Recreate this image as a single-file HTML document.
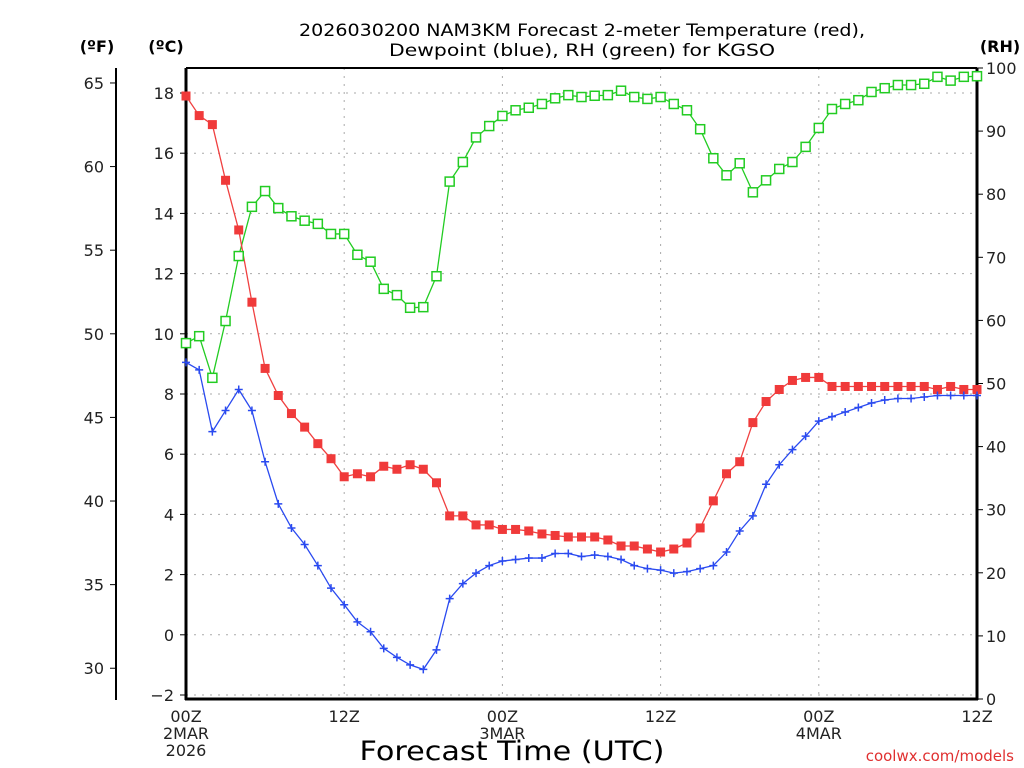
<!DOCTYPE html>
<html><head><meta charset="utf-8"><style>
html,body{margin:0;padding:0;background:#fff;}
svg{display:block;font-family:"DejaVu Sans","Liberation Sans",sans-serif;}
</style></head><body>
<svg id="chart" width="1024" height="768" viewBox="0 0 1024 768" xmlns="http://www.w3.org/2000/svg">
<rect width="1024" height="768" fill="#fff"/>
<g id="grid"></g>
<g id="axes"></g>
<g id="series"></g>
<text x="582" y="36" font-size="17" text-anchor="middle" textLength="566" lengthAdjust="spacingAndGlyphs">2026030200 NAM3KM Forecast 2-meter Temperature (red),</text>
<text x="582" y="56" font-size="17" text-anchor="middle" textLength="386" lengthAdjust="spacingAndGlyphs">Dewpoint (blue), RH (green) for KGSO</text>
<text x="97" y="52" font-size="16" font-weight="bold" text-anchor="middle">(ºF)</text>
<text x="166" y="52" font-size="16" font-weight="bold" text-anchor="middle">(ºC)</text>
<text x="1000" y="52" font-size="16" font-weight="bold" text-anchor="middle">(RH)</text>
<text x="512" y="760" font-size="27" text-anchor="middle" textLength="305" lengthAdjust="spacingAndGlyphs">Forecast Time (UTC)</text>
<text x="1014" y="761" font-size="15" fill="#e03030" text-anchor="end">coolwx.com/models</text>
</svg>
<script>
const temps=[17.9,17.25,16.95,15.1,13.45,11.05,8.85,7.95,7.35,6.9,6.35,5.85,5.25,5.35,5.25,5.6,5.5,5.65,5.5,5.05,3.95,3.95,3.65,3.65,3.5,3.5,3.45,3.35,3.3,3.25,3.25,3.25,3.15,2.95,2.95,2.85,2.75,2.85,3.05,3.55,4.45,5.35,5.75,7.05,7.75,8.15,8.45,8.55,8.55,8.25,8.25,8.25,8.25,8.25,8.25,8.25,8.25,8.15,8.25,8.15,8.15];
const dewpoints=[9.05,8.8,6.75,7.45,8.15,7.45,5.75,4.35,3.55,3.0,2.3,1.55,1.0,0.43,0.1,-0.45,-0.75,-1.0,-1.15,-0.5,1.2,1.7,2.05,2.3,2.45,2.5,2.55,2.55,2.7,2.7,2.6,2.65,2.6,2.5,2.3,2.2,2.15,2.05,2.1,2.2,2.3,2.75,3.45,3.95,5.0,5.65,6.15,6.6,7.1,7.25,7.4,7.55,7.7,7.8,7.85,7.85,7.9,7.95,7.95,7.95,7.95];
const rh=[56.4,57.5,50.9,59.9,70.2,78,80.5,77.8,76.5,75.8,75.3,73.7,73.7,70.4,69.3,65,64,62,62.1,67,82,85.1,89,90.8,92.4,93.3,93.7,94.3,95.2,95.7,95.4,95.6,95.7,96.4,95.4,95.1,95.4,94.3,93.3,90.3,85.7,83,84.9,80.3,82.2,84,85.1,87.5,90.5,93.5,94.3,94.9,96.2,96.8,97.3,97.3,97.5,98.6,98,98.6,98.7];
const celsiusTicks=[-2,0,2,4,6,8,10,12,14,16,18];
const fahrenheitTicks=[30,35,40,45,50,55,60,65];
const rhTicks=[0,10,20,30,40,50,60,70,80,90,100];
const xTickHours=[0,12,24,36,48,60];
const xTickLabels=[["00Z","2MAR","2026"],["12Z"],["00Z","3MAR"],["12Z"],["00Z","4MAR"],["12Z"]];

const NS="http://www.w3.org/2000/svg";
const X0=186,X1=977,YT=68,YB=699;
const xh=h=>X0+h*(X1-X0)/60;
const yc=c=>93+(18-c)*30.1;
const yf=f=>yc((f-32)*5/9);
const yr=r=>YB-r*(YB-YT)/100;
function el(tag,attrs,parent,text){const e=document.createElementNS(NS,tag);for(const k in attrs)e.setAttribute(k,attrs[k]);if(text!==undefined)e.textContent=text;parent.appendChild(e);return e;}
const grid=document.getElementById('grid'),axes=document.getElementById('axes'),series=document.getElementById('series');

celsiusTicks.forEach(c=>{
  const g=el('line',{x1:X0,x2:X1,y1:yc(c),y2:yc(c),stroke:'#aaa','stroke-dasharray':'2,6'},grid);
  
  
  const t=el('line',{x1:X0-6,x2:X0,y1:yc(c),y2:yc(c),stroke:'#000'},axes);
  
  
  const l=el('text',{x:X0-12,y:yc(c)+6,'font-size':16,'text-anchor':'end',fill:'#222'},axes,c<0?'\u2212'+(-c):String(c));
  
  
});
xTickHours.forEach((h,i)=>{
  if(h>0&&h<60){const g=el('line',{x1:xh(h),x2:xh(h),y1:YT,y2:YB,stroke:'#aaa','stroke-dasharray':'2,6'},grid);
  
  }
  xTickLabels[i].forEach((s,j)=>{
    const l=el('text',{x:xh(h),y:722+j*17,'font-size':16,'text-anchor':'middle',fill:'#222'},axes,s);
    
    
  });
});
fahrenheitTicks.forEach(f=>{
  const t=el('line',{x1:110,x2:116,y1:yf(f),y2:yf(f),stroke:'#000'},axes);
  
  
  const l=el('text',{x:104,y:yf(f)+6,'font-size':16,'text-anchor':'end',fill:'#222'},axes,String(f));
  
  
});
rhTicks.forEach(r=>{
  const t=el('line',{x1:X1,x2:X1+6,y1:yr(r),y2:yr(r),stroke:'#000'},axes);
  
  
  const l=el('text',{x:X1+9,y:yr(r)+6,'font-size':16,fill:'#222'},axes,String(r));
  
  
});
[[116,YT,116,YB+1,2],[X0,YT,X0,YB+1,3],[X1,YT,X1,YB+1,3],[X0,YT,X1,YT,2],[X0-1,YB,X1+1,YB,3]].forEach(a=>{
  const l=el('line',{x1:a[0],y1:a[1],x2:a[2],y2:a[3],stroke:'#000','stroke-width':a[4]},axes);
  
  
});

function drawLine(vals,yfn,color,name){
  const p=el('polyline',{points:vals.map((v,i)=>xh(i)+','+yfn(v)).join(' '),fill:'none',stroke:color,'stroke-width':1.3},series);
  
  
}
drawLine(rh,yr,'#22cc22','rh');
drawLine(temps,yc,'#f04040','temperature');
drawLine(dewpoints,yc,'#2a4af0','dewpoint');
rh.forEach((v,i)=>{
  const m=el('rect',{x:xh(i)-4.5,y:yr(v)-4.5,width:9,height:9,fill:'#fff',stroke:'#22cc22','stroke-width':1.5},series);
  
  
});
temps.forEach((v,i)=>{
  const m=el('rect',{x:xh(i)-4.5,y:yc(v)-4.5,width:9,height:9,fill:'#f03a3a'},series);
  
  
});
dewpoints.forEach((v,i)=>{
  const x=xh(i),y=yc(v);
  const m=el('path',{d:`M${x-4},${y}H${x+4}M${x},${y-4}V${y+4}`,stroke:'#2a4af0','stroke-width':1.5},series);
  
  
});
</script>
</body></html>
